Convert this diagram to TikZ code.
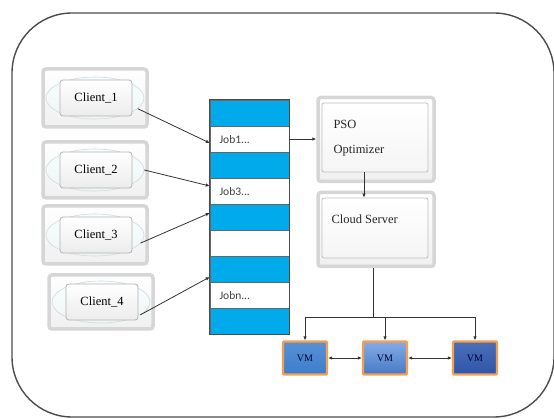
\documentclass[tikz,border=0pt]{standalone}
\usepackage{fontspec}
\setmainfont{Liberation Serif}
\newfontfamily\jobfont{Carlito}
\usetikzlibrary{arrows.meta,shapes.geometric}
\definecolor{qblue}{RGB}{0,170,235}
\definecolor{vmA}{RGB}{60,125,205}
\definecolor{vmB}{RGB}{80,135,220}
\definecolor{vmC}{RGB}{45,85,170}
\definecolor{vmOr}{RGB}{245,160,80}
\begin{document}
\begin{tikzpicture}[x=1pt,y=-1pt,
  outerbox/.style={draw=gray!32, line width=3.5pt, rounded corners=3pt, top color=white, bottom color=gray!12},
  cellipse/.style={ellipse, draw=cyan!25!gray!35, line width=0.6pt, top color=cyan!3, bottom color=cyan!8!gray!10, minimum width=98pt, minimum height=42pt},
  cinner/.style={draw=gray!60, line width=0.8pt, rounded corners=3pt, top color=white, bottom color=gray!15, minimum width=72pt, minimum height=36pt, font=\fontsize{12.5}{14}\selectfont},
  innerbox/.style={draw=gray!50, line width=0.8pt, rounded corners=2pt, top color=white, bottom color=white!92!gray},
  qcell/.style={draw=black!60, line width=0.5pt, minimum width=79pt, minimum height=26pt, inner sep=0pt},
  qb/.style={qcell, fill=qblue},
  qw/.style={qcell, fill=white},
  joblbl/.style={anchor=west, font=\jobfont\fontsize{11.5}{13}\selectfont, text=black!75},
  boxtxt/.style={anchor=west, font=\fontsize{12.5}{14}\selectfont, text=black!85},
  vmbox/.style={draw=vmOr, line width=2.2pt, rounded corners=1pt, minimum width=44pt, minimum height=33pt, font=\fontsize{10}{11}\selectfont, text=black!80!blue},
  arr/.style={-{Latex[length=4pt,width=3.5pt]}, line width=0.8pt, black!80},
  darr/.style={{Latex[length=4pt,width=3.5pt]}-{Latex[length=4pt,width=3.5pt]}, line width=0.8pt, black!80},
  ln/.style={line width=0.9pt, black!80}]
\useasboundingbox (0,0) rectangle (554,419);
% outer frame
\draw[gray!60!black, line width=1.4pt, rounded corners=60pt] (12,13) rectangle (554,417);

% clients
\node[outerbox, minimum width=104pt, minimum height=58pt] (c1o) at (95,98) {};
\node[cellipse] (c1e) at (95,98) {};
\node[cinner] (c1) at (96,98) {Client\_1};
\node[outerbox, minimum width=104pt, minimum height=56pt] (c2o) at (95,170) {};
\node[cellipse] (c2e) at (95,170) {};
\node[cinner] (c2) at (96,170) {Client\_2};
\node[outerbox, minimum width=104pt, minimum height=58pt] (c3o) at (95,235) {};
\node[cellipse] (c3e) at (95,235) {};
\node[cinner] (c3) at (96,235) {Client\_3};
\node[outerbox, minimum width=104pt, minimum height=54pt] (c4o) at (101,302) {};
\node[cellipse] (c4e) at (101,302) {};
\node[cinner] (c4) at (102,302) {Client\_4};

% queue
\node[qb] (q0) at (249.5,113) {};
\node[qw] (q1) at (249.5,139) {};
\node[qb] (q2) at (249.5,165) {};
\node[qw] (q3) at (249.5,191) {};
\node[qb] (q4) at (249.5,217) {};
\node[qw] (q5) at (249.5,243) {};
\node[qb] (q6) at (249.5,269) {};
\node[qw] (q7) at (249.5,295) {};
\node[qb] (q8) at (249.5,321) {};
\draw[black!70, line width=0.8pt] (q0.north west) rectangle (q8.south east);
\node[joblbl] (j1) at (216,140) {Job1...};
\node[joblbl] (j3) at (216,192) {Job3...};
\node[joblbl] (jn) at (216,296) {Jobn...};

% client arrows
\draw[arr] (c1e.-14) -- ([yshift=-4pt]q1.west);
\draw[arr] (c2e.east) -- ([yshift=5pt]q3.west);
\draw[arr] (c3e.-10) -- ([yshift=4pt]q4.west);
\draw[arr] (c4e.-18) -- ([yshift=-8pt]q6.west);

% PSO optimizer
\node[outerbox, minimum width=116pt, minimum height=84pt] (psoo) at (376,139.5) {};
\node[innerbox, minimum width=106pt, minimum height=69pt] (pso) at (375,137.5) {};
\node[boxtxt] (psot) at (330,124) {PSO};
\node[boxtxt] (optt) at (330,151) {Optimizer};
% cloud server
\node[outerbox, minimum width=116pt, minimum height=74pt] (clo) at (376,229.5) {};
\node[innerbox, minimum width=106pt, minimum height=60pt] (cl) at (375,228) {};
\node[boxtxt] (clt) at (328,219) {Cloud Server};

\draw[arr] (q1.east) -- (psoo.west |- q1.east);
\draw[arr] ([xshift=-11pt]pso.south) -- ([xshift=-11pt]cl.north);

% VMs
\node[vmbox, top color=vmA!85!white, bottom color=vmA] (vm1) at (305,358) {VM};
\node[vmbox, top color=vmB!70!white, bottom color=vmB!90!black] (vm2) at (385,358) {VM};
\node[vmbox, top color=vmC!85!white, bottom color=vmC] (vm3) at (475,358) {VM};

\coordinate (bus) at (373,317);
\draw[ln] (bus |- clo.south) -- (bus);
\draw[ln] (vm1.north |- bus) -- (vm3.north |- bus);
\draw[arr] (vm1.north |- bus) -- (vm1.north);
\draw[arr] (vm2.north |- bus) -- (vm2.north);
\draw[arr] (vm3.north |- bus) -- (vm3.north);
\draw[darr] (vm1.east) -- (vm2.west);
\draw[darr] (vm2.east) -- (vm3.west);
\end{tikzpicture}
\end{document}
